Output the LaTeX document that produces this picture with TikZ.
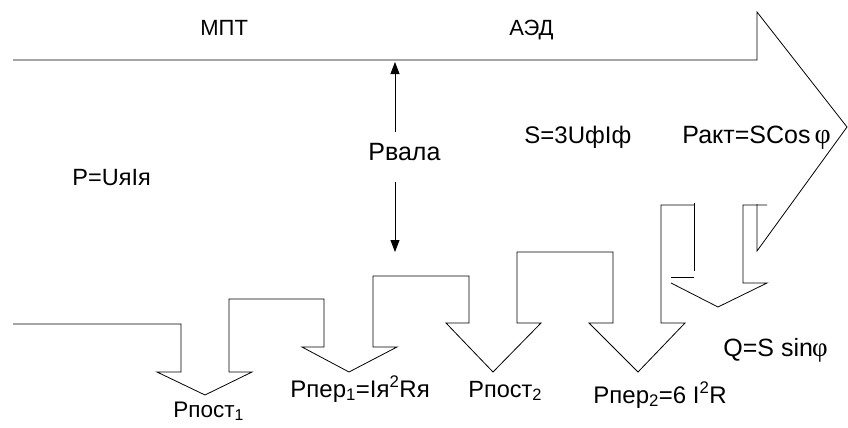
\documentclass[tikz,border=0pt]{standalone}
\usepackage{fontspec}
\setmainfont{Liberation Sans}
\newfontfamily\phifont{Liberation Serif}
\usetikzlibrary{arrows.meta}
\begin{document}
\begin{tikzpicture}[x=1pt,y=-1pt, line width=0.8pt,
  lbl/.style={anchor=base west, inner sep=0pt, font=\fontsize{#1}{#1}\selectfont},
  lbl/.default=22,
  outline/.style={draw=black, line join=miter},
  shaftarrow/.style={draw=black, -{Triangle[length=12pt,width=9pt]}}]
\useasboundingbox (0,0) rectangle (848,428);
% main energy arrow
\draw[outline] (13,60) -- (757,60) -- (757,12) -- (847,127) -- (757,251) -- (757,204);
% bottom staircase of loss arrows
\draw[outline] (13,324) -- (181,324) -- (181,372) -- (157,372) -- (205,395) -- (252,372)
  -- (229,372) -- (229,299) -- (324,299) -- (324,347) -- (302,347) -- (349,372) -- (397,347)
  -- (373,347) -- (373,276) -- (469,276) -- (469,323) -- (446,323) -- (493,372) -- (541,323)
  -- (517,323) -- (517,252) -- (613,252) -- (613,323) -- (589,323) -- (638,372) -- (685,323)
  -- (661,323) -- (661,205) -- (694,205);
\draw[outline] (694,203) -- (694,271);
\draw[outline] (671,277) -- (694,277);
\draw[outline] (671,283) -- (718,307) -- (767,283) -- (743,283) -- (743,205) -- (767,205);
% labels
\node[lbl=22] (mpt) at (200,36) {МПТ};
\node[lbl=22] (aed) at (509,36) {АЭД};
\node[lbl=23.5] (p) at (72,185) {P=UяIя};
\node[lbl=25] (rv) at (368,160) {Рвала};
\node[lbl=24] (s) at (524,143) {S=3UфIф};
\node[lbl=25] (pakt) at (682,143) {Ракт=SCos\,{\phifont\fontsize{28}{28}\selectfont φ}};
\node[lbl=22.5] (ppost1) at (173,417) {Рпост\textsubscript{1}};
\node[lbl=24] (pper1) at (290,397) {Рпер\textsubscript{1}=Iя\textsuperscript{2}Rя};
\node[lbl=23.5] (ppost2) at (468,397) {Рпост\textsubscript{2}};
\node[lbl=24] (pper2) at (593,403) {Рпер\textsubscript{2}=6 I\textsuperscript{2}R};
\node[lbl=25] (q) at (723,356) {Q=S sin\kern-1pt{\phifont\fontsize{27}{27}\selectfont φ}};
% shaft power arrows
\coordinate (upS) at (395,132);
\coordinate (upE) at (395,62);
\coordinate (dnS) at (395,182);
\coordinate (dnE) at (395,252);
\draw[shaftarrow] (upS) -- (upE);
\draw[shaftarrow] (dnS) -- (dnE);
\end{tikzpicture}
\end{document}
